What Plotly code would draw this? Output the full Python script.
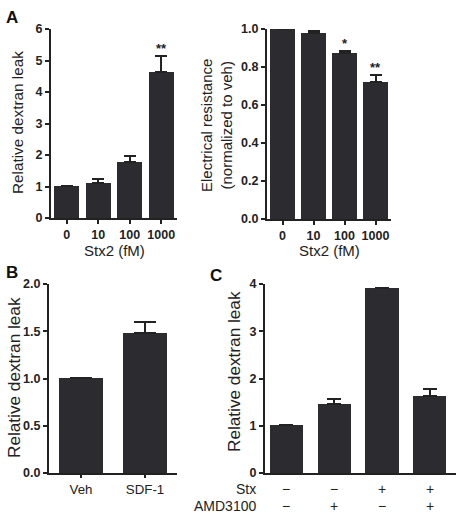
import plotly.graph_objects as go

W, H = 466, 514

# Panel A (left): dextran leak vs Stx2
a1_cats = ["0", "10", "100", "1000"]
a1_vals = [1.03, 1.10, 1.78, 4.62]
a1_err = [0.0, 0.15, 0.20, 0.52]

# Panel A (right): electrical resistance
a2_cats = ["0", "10", "100", "1000"]
a2_vals = [1.0, 0.98, 0.875, 0.72]
a2_err = [0.0, 0.012, 0.01, 0.037]

# Panel B
b_cats = ["Veh", "SDF-1"]
b_vals = [1.01, 1.48]
b_err = [0.0, 0.12]

# Panel C
c_vals = [1.02, 1.46, 3.92, 1.62]
c_err = [0.0, 0.11, 0.0, 0.15]
c_stx = ["\u2212", "\u2212", "+", "+"]
c_amd = ["\u2212", "+", "\u2212", "+"]

BAR = "#2b2b30"
AX = "#222222"
FONT = "Liberation Sans, Arial, sans-serif"


def px_x(a, b):
    return [a / W, b / W]


def px_y(top, bottom):
    return [(H - bottom) / H, (H - top) / H]


fig = go.Figure()


def add_bar(xs, ys, errs, xa, ya, bw, cap):
    fig.add_trace(go.Bar(
        x=list(range(len(xs))), y=ys, xaxis=xa, yaxis=ya, width=bw,
        marker=dict(color=BAR, line=dict(width=0)),
        error_y=dict(type="data", symmetric=False, array=errs,
                     arrayminus=[0] * len(errs), color=AX, thickness=2, width=cap),
        showlegend=False, hoverinfo="skip"))


add_bar(a1_cats, a1_vals, a1_err, "x", "y", 0.8, 6)
add_bar(a2_cats, a2_vals, a2_err, "x2", "y2", 0.8, 6)
add_bar(b_cats, b_vals, b_err, "x3", "y3", 0.68, 11)
add_bar(c_vals, c_vals, c_err, "x4", "y4", 0.7, 7)

tickfont = dict(family=FONT, size=12.5, color=AX, weight="bold")
common_y = dict(showline=True, linewidth=2, linecolor=AX, ticks="outside", ticklen=4,
                tickwidth=2, tickcolor=AX, showgrid=False, zeroline=False, tickfont=tickfont,
                automargin=False)
common_x = dict(showline=True, linewidth=2, linecolor=AX, showgrid=False, zeroline=False,
                automargin=False)

fig.update_layout(
    template="none",
    width=W, height=H, margin=dict(l=0, r=0, t=0, b=0, autoexpand=False),
    paper_bgcolor="white", plot_bgcolor="white",
    font=dict(family=FONT, color=AX),
    bargap=0,
    xaxis=dict(domain=px_x(51, 177), range=[-0.5, 3.5], anchor="y",
               tickmode="array", tickvals=list(range(4)), ticktext=a1_cats,
               ticks="outside", ticklen=4, tickwidth=2, tickcolor=AX, tickfont=tickfont,
               **common_x),
    yaxis=dict(domain=px_y(29, 218), range=[0, 6], dtick=1, anchor="x", **common_y),
    xaxis2=dict(domain=px_x(267, 391), range=[-0.5, 3.5], anchor="y2",
                tickmode="array", tickvals=list(range(4)), ticktext=a2_cats,
                ticks="outside", ticklen=4, tickwidth=2, tickcolor=AX, tickfont=tickfont,
                **common_x),
    yaxis2=dict(domain=px_y(29, 219), range=[0, 1.0], dtick=0.2, tickformat=".1f",
                anchor="x2", **common_y),
    xaxis3=dict(domain=px_x(49, 177), range=[-0.5, 1.5], anchor="y3",
                tickmode="array", tickvals=[0, 1], ticktext=b_cats,
                ticks="outside", ticklen=3, tickwidth=2, tickcolor=AX,
                tickfont=dict(family=FONT, size=13.3, color=AX), **common_x),
    yaxis3=dict(domain=px_y(284, 473), range=[0, 2.0], dtick=0.5, tickformat=".1f",
                anchor="x3", **common_y),
    xaxis4=dict(domain=px_x(265, 456), range=[-0.45, 3.55], anchor="y4",
                showticklabels=False, ticks="", **common_x),
    yaxis4=dict(domain=px_y(284, 473), range=[0, 4], dtick=1, anchor="x4", **common_y),
)

ann = []
# Panel letters
for t, x, y in [("A", 4, 18), ("B", 4, 272), ("C", 208, 275)]:
    ann.append(dict(text=t, x=x / W, y=1 - y / H, xref="paper", yref="paper",
                    xanchor="left", yanchor="middle", showarrow=False,
                    font=dict(family=FONT, size=17, color="#111", weight="bold")))
# Y titles
for txt, x, y, fs in [("Relative dextran leak", 17, 123, 15.3),
                      ("Electrical resistance<br>(normalized to veh)", 216, 126, 15),
                      ("Relative dextran leak", 14, 378, 17.2),
                      ("Relative dextran leak", 234, 372, 17.2)]:
    ann.append(dict(text=txt, x=x / W, y=1 - y / H, xref="paper", yref="paper",
                    xanchor="center", yanchor="middle", textangle=-90, showarrow=False,
                    font=dict(family=FONT, size=fs, color=AX)))
# X titles
for x in (114, 329):
    ann.append(dict(text="Stx2 (fM)", x=x / W, y=1 - 250 / H, xref="paper", yref="paper",
                    xanchor="center", yanchor="middle", showarrow=False,
                    font=dict(family=FONT, size=15, color=AX)))
# Significance stars
for x, y, t, xr, yr in [(3, 5.38, "**", "x", "y"), (2, 0.925, "*", "x2", "y2"),
                        (3, 0.795, "**", "x2", "y2")]:
    ann.append(dict(text=t, x=x, y=y, xref=xr, yref=yr, showarrow=False,
                    xanchor="center", yanchor="middle",
                    font=dict(family=FONT, size=13, color=AX, weight="bold")))
# Panel C condition rows
ann.append(dict(text="Stx", x=258 / W, y=1 - 489 / H, xref="paper", yref="paper",
                xanchor="right", yanchor="middle", showarrow=False,
                font=dict(family=FONT, size=14, color=AX)))
ann.append(dict(text="AMD3100", x=258 / W, y=1 - 506 / H, xref="paper", yref="paper",
                xanchor="right", yanchor="middle", showarrow=False,
                font=dict(family=FONT, size=14, color=AX)))
for i in range(4):
    ann.append(dict(text=c_stx[i], x=i, y=1 - 489 / H, xref="x4", yref="paper",
                    xanchor="center", yanchor="middle",
                    showarrow=False, font=dict(family=FONT, size=14, color=AX)))
    ann.append(dict(text=c_amd[i], x=i, y=1 - 506 / H, xref="x4", yref="paper",
                    xanchor="center", yanchor="middle",
                    showarrow=False, font=dict(family=FONT, size=14, color=AX)))

fig.update_layout(annotations=ann)
fig.write_html("out.html")
